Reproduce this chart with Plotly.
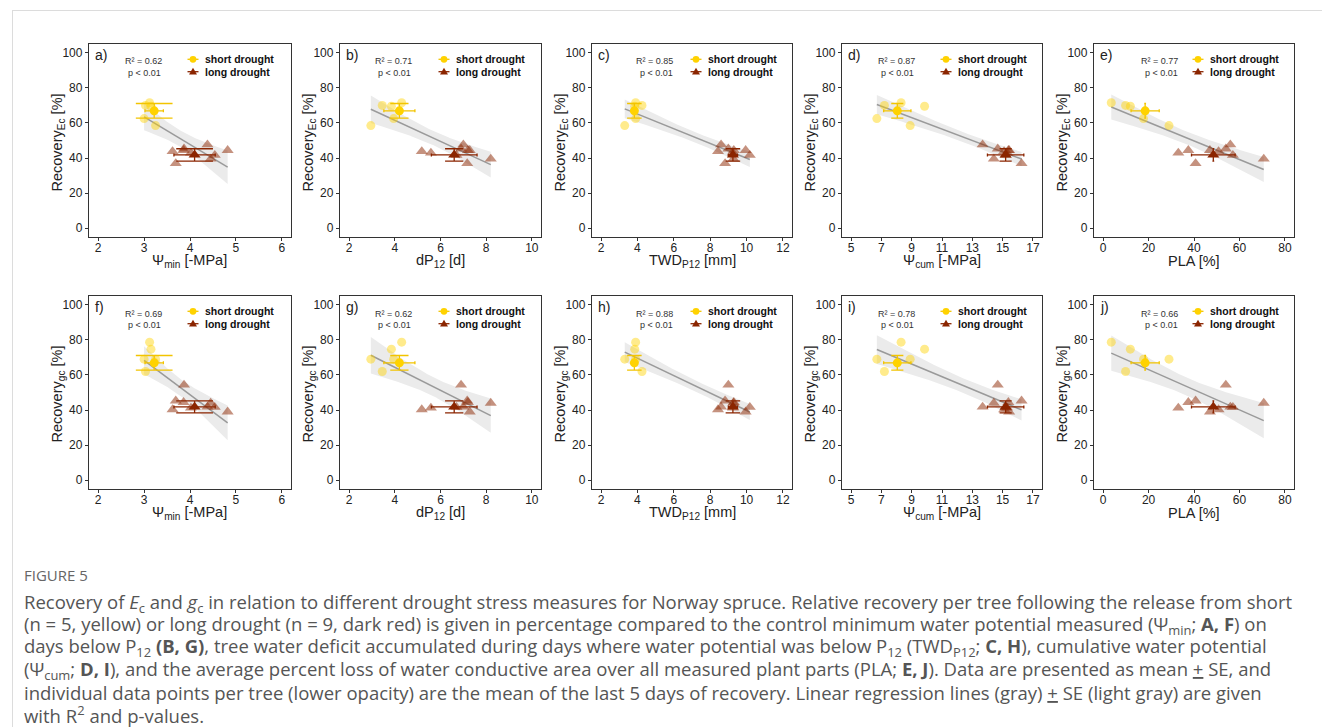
import numpy as np
import plotly.graph_objects as go

# ---------------- data ----------------
panel_letters = ["a)", "b)", "c)", "d)", "e)", "f)", "g)", "h)", "i)", "j)"]

# short drought trees (n = 5)
short_psimin = [3.25, 3.00, 3.15, 3.03, 3.12]
short_dp12 = [2.95, 3.95, 3.85, 3.45, 4.30]
short_twd = [3.30, 3.90, 3.85, 4.25, 3.90]
short_psicum = [8.90, 6.70, 9.85, 7.20, 8.30]
short_pla = [29.0, 17.8, 12.0, 9.9, 3.6]
short_ec = [58.5, 62.5, 69.5, 70.0, 71.5]
short_gc = [69.0, 69.0, 74.7, 62.0, 78.7]

# long drought trees (n = 9)
long_psimin = [4.02, 3.86, 3.69, 4.82, 3.62, 3.87, 4.38, 4.54, 4.45]
long_dp12 = [5.58, 7.20, 7.17, 7.28, 5.18, 6.90, 7.00, 6.70, 8.20]
long_twd = [9.25, 9.30, 8.82, 9.95, 8.43, 9.00, 8.60, 10.18, 9.28]
long_psicum = [15.30, 15.38, 16.25, 15.43, 15.10, 14.68, 13.68, 15.20, 14.42]
long_pla = [33.1, 37.5, 40.7, 47.0, 50.8, 54.0, 56.0, 57.1, 70.7]
long_ec = [42.9, 44.4, 36.9, 44.4, 43.8, 45.3, 47.6, 41.6, 39.5]
long_gc = [41.2, 44.4, 45.3, 39.0, 40.3, 54.3, 41.8, 41.6, 44.0]

# group means +- SE shown in the panels (x: per drought measure)
short_mean_x = [3.22, 4.20, 3.83, 8.05, 18.5]
short_se_x = [0.20, 0.68, 0.10, 0.90, 6.2]
long_mean_x = [4.10, 6.60, 9.25, 15.20, 48.5]
long_se_x = [0.45, 1.00, 0.25, 1.20, 9.6]
short_mean_ec, short_se_ec = 66.9, 4.2
short_mean_gc, short_se_gc = 66.9, 4.2
long_mean_ec, long_se_ec = 41.8, 3.5
long_mean_gc, long_se_gc = 41.8, 3.4

r2_ec = ["0.62", "0.71", "0.85", "0.87", "0.77"]
r2_gc = ["0.69", "0.62", "0.88", "0.78", "0.66"]
p_label = "p < 0.01"

x_titles = ["Ψ<sub>min</sub> [-MPa]", "dP<sub>12</sub> [d]", "TWD<sub>P12</sub> [mm]",
            "Ψ<sub>cum</sub> [-MPa]", "PLA [%]"]
y_titles = ["Recovery<sub>Ec</sub> [%]", "Recovery<sub>gc</sub> [%]"]
x_ranges = [[1.8, 6.2], [1.6, 10.4], [1.5, 12.5], [4.4, 17.6], [-4, 84]]
x_ticks = [[2, 3, 4, 5, 6], [2, 4, 6, 8, 10], [2, 4, 6, 8, 10, 12],
           [5, 7, 9, 11, 13, 15, 17], [0, 20, 40, 60, 80]]
y_ticks = [0, 20, 40, 60, 80, 100]

caption_title = "FIGURE 5"
caption_lines = [
    "Recovery of <i>E</i><sub>c</sub> and <i>g</i><sub>c</sub> in relation to different drought stress measures for Norway spruce. Relative recovery per tree following the release from short",
    "(n = 5, yellow) or long drought (n = 9, dark red) is given in percentage compared to the control minimum water potential measured (Ψ<sub>min</sub>; <b>A, F</b>) on",
    "days below P<sub>12</sub> <b>(B, G)</b>, tree water deficit accumulated during days where water potential was below P<sub>12</sub> (TWD<sub>P12</sub>; <b>C, H</b>), cumulative water potential",
    "(Ψ<sub>cum</sub>; <b>D, I</b>), and the average percent loss of water conductive area over all measured plant parts (PLA; <b>E, J</b>). Data are presented as mean <u>+</u> SE, and",
    "individual data points per tree (lower opacity) are the mean of the last 5 days of recovery. Linear regression lines (gray) <u>+</u> SE (light gray) are given",
    "with R<sup>2</sup> and p-values.",
]

# ---------------- layout geometry ----------------
W, H = 1322, 727
def fx(p):
    return p / W
def fy(p):
    return 1 - p / H

col_left = [89, 340, 592, 842, 1094]
col_right = [291, 541, 792, 1042, 1294]
row_top = [44, 296]
row_bottom = [237, 489]

SHORT = "#FFD200"
SHORT_BAR = "#F2C400"
LONG = "#8B2500"
FONT = "Liberation Sans, Arial, sans-serif"
TXT = "#222222"

short_x = [short_psimin, short_dp12, short_twd, short_psicum, short_pla]
long_x = [long_psimin, long_dp12, long_twd, long_psicum, long_pla]

fig = go.Figure()
layout = dict(width=W, height=H, margin=dict(l=0, r=0, t=0, b=0),
              paper_bgcolor="white", plot_bgcolor="white", showlegend=False,
              font=dict(family=FONT, color=TXT))
annotations = []
shapes = []

T_Q = 2.1788  # t(0.975, df = 12)

for r in range(2):
    ys_short = short_ec if r == 0 else short_gc
    ys_long = long_ec if r == 0 else long_gc
    m_s, se_s = (short_mean_ec, short_se_ec) if r == 0 else (short_mean_gc, short_se_gc)
    m_l, se_l = (long_mean_ec, long_se_ec) if r == 0 else (long_mean_gc, long_se_gc)
    r2 = r2_ec if r == 0 else r2_gc
    for c in range(5):
        i = r * 5 + c
        n = i + 1
        xa = "x" if n == 1 else f"x{n}"
        ya = "y" if n == 1 else f"y{n}"
        xk = "xaxis" if n == 1 else f"xaxis{n}"
        yk = "yaxis" if n == 1 else f"yaxis{n}"
        L, R = col_left[c], col_right[c]
        T, B = row_top[r], row_bottom[r]
        layout[xk] = dict(domain=[fx(L), fx(R)], anchor=ya, range=x_ranges[c],
                          tickvals=x_ticks[c], showgrid=False, zeroline=False,
                          showline=True, mirror=True, linecolor="#333333", linewidth=1.3,
                          ticks="outside", ticklen=3, tickwidth=1, tickcolor="#333333",
                          ticklabelstandoff=-4,
                          tickfont=dict(size=12, color=TXT, family=FONT))
        layout[yk] = dict(domain=[fy(B), fy(T)], anchor=xa, range=[-5, 105],
                          tickvals=y_ticks, showgrid=False, zeroline=False,
                          showline=True, mirror=True, linecolor="#333333", linewidth=1.3,
                          ticks="outside", ticklen=3, tickwidth=1, tickcolor="#333333",
                          tickfont=dict(size=12, color=TXT, family=FONT))
        # axis titles
        annotations.append(dict(text=x_titles[c], x=fx((L + R) / 2), y=fy(B + 24),
                                xref="paper", yref="paper", xanchor="center", yanchor="middle",
                                showarrow=False, font=dict(size=14.5, color=TXT, family=FONT)))
        annotations.append(dict(text=y_titles[r], x=fx(L - 32), y=fy((T + B) / 2 + 2),
                                xref="paper", yref="paper", xanchor="center", yanchor="middle",
                                textangle=-90, showarrow=False,
                                font=dict(size=14.5, color=TXT, family=FONT)))

        # regression over individual trees
        xall = np.array(short_x[c] + long_x[c], dtype=float)
        yall = np.array(ys_short + ys_long, dtype=float)
        b, a = np.polyfit(xall, yall, 1)
        nn = len(xall)
        resid = yall - (a + b * xall)
        s = np.sqrt(np.sum(resid ** 2) / (nn - 2))
        sxx = np.sum((xall - xall.mean()) ** 2)
        xg = np.linspace(xall.min(), xall.max(), 80)
        yh = a + b * xg
        se = s * np.sqrt(1 / nn + (xg - xall.mean()) ** 2 / sxx)
        up, lo = yh + T_Q * se, yh - T_Q * se
        fig.add_trace(go.Scatter(x=np.concatenate([xg, xg[::-1]]), y=np.concatenate([up, lo[::-1]]),
                                 fill="toself", fillcolor="#ebebeb", line=dict(width=0),
                                 mode="lines", hoverinfo="skip", xaxis=xa, yaxis=ya))
        fig.add_trace(go.Scatter(x=xg, y=yh, mode="lines", line=dict(color="#9a9a9a", width=1.5),
                                 xaxis=xa, yaxis=ya))

        # individual trees
        fig.add_trace(go.Scatter(x=short_x[c], y=ys_short, mode="markers",
                                 marker=dict(symbol="circle", size=9, color=SHORT, opacity=0.45),
                                 xaxis=xa, yaxis=ya))
        fig.add_trace(go.Scatter(x=long_x[c], y=ys_long, mode="markers",
                                 marker=dict(symbol="triangle-up", size=10.5, color=LONG, opacity=0.5),
                                 xaxis=xa, yaxis=ya))

        # group means +- SE
        ppu = (R - L) / (x_ranges[c][1] - x_ranges[c][0])
        capw = 0.4 * ppu
        fig.add_trace(go.Scatter(x=[short_mean_x[c]], y=[m_s], mode="markers",
                                 marker=dict(symbol="circle", size=9, color=SHORT),
                                 error_y=dict(type="data", array=[se_s], color=SHORT_BAR,
                                              thickness=1.3, width=capw),
                                 error_x=dict(type="data", array=[short_se_x[c]], color=SHORT_BAR,
                                              thickness=1.3, width=1.5),
                                 xaxis=xa, yaxis=ya))
        fig.add_trace(go.Scatter(x=[long_mean_x[c]], y=[m_l], mode="markers",
                                 marker=dict(symbol="triangle-up", size=10.5, color=LONG),
                                 error_y=dict(type="data", array=[se_l], color=LONG,
                                              thickness=1.3, width=capw),
                                 error_x=dict(type="data", array=[long_se_x[c]], color=LONG,
                                              thickness=1.3, width=1.5),
                                 xaxis=xa, yaxis=ya))

        # panel letter
        annotations.append(dict(text=panel_letters[i], x=fx(L + 4), y=fy(T + 11), xref="paper",
                                yref="paper", xanchor="left", yanchor="middle", showarrow=False,
                                font=dict(size=14, color=TXT, family=FONT)))
        # R2 / p text
        offs = [54, 53, 62.5, 54, 65.5][c]
        annotations.append(dict(text=f"R² = {r2[c]}", x=fx(L + offs), y=fy(T + 17.5), xref="paper",
                                yref="paper", xanchor="center", yanchor="middle", showarrow=False,
                                font=dict(size=9, color="#333333", family=FONT)))
        annotations.append(dict(text=p_label, x=fx(L + offs + 1.5), y=fy(T + 29), xref="paper",
                                yref="paper", xanchor="center", yanchor="middle", showarrow=False,
                                font=dict(size=9, color="#333333", family=FONT)))
        # legend (manual)
        gx = L + 104
        for k, (lab, col) in enumerate([("short drought", SHORT), ("long drought", LONG)]):
            gy = T + 15.3 + 12.4 * k
            shapes.append(dict(type="line", xref="paper", yref="paper", xsizemode="pixel",
                               ysizemode="pixel", xanchor=fx(gx), yanchor=fy(gy),
                               x0=-5.5, x1=5.5, y0=0, y1=0,
                               line=dict(color=SHORT_BAR if k == 0 else LONG, width=1.3)))
            if k == 0:
                shapes.append(dict(type="circle", xref="paper", yref="paper", xsizemode="pixel",
                                   ysizemode="pixel", xanchor=fx(gx), yanchor=fy(gy),
                                   x0=-3.4, x1=3.4, y0=-3.4, y1=3.4,
                                   fillcolor=SHORT, line=dict(width=0)))
            else:
                shapes.append(dict(type="path", xref="paper", yref="paper", xsizemode="pixel",
                                   ysizemode="pixel", xanchor=fx(gx), yanchor=fy(gy),
                                   path="M -4,-2.8 L 4,-2.8 L 0,4 Z",
                                   fillcolor=LONG, line=dict(width=0)))
            annotations.append(dict(text=f"<b>{lab}</b>", x=fx(gx + 10), y=fy(gy), xref="paper",
                                    yref="paper", xanchor="left", yanchor="middle", showarrow=False,
                                    font=dict(size=10.5, color="#111111", family=FONT)))

# card border
shapes.append(dict(type="line", xref="paper", yref="paper", x0=fx(12), x1=1, y0=fy(10.5), y1=fy(10.5),
                   line=dict(color="#dcdcdc", width=1)))
shapes.append(dict(type="line", xref="paper", yref="paper", x0=fx(12.5), x1=fx(12.5), y0=fy(10.5), y1=0,
                   line=dict(color="#dcdcdc", width=1)))

# caption
CAP_FONT = "Open Sans, Lato, sans-serif"
annotations.append(dict(text=caption_title, x=fx(22), y=fy(575), xref="paper", yref="paper",
                        xanchor="left", yanchor="middle", showarrow=False,
                        font=dict(size=15, color="#666666", family=CAP_FONT)))
for k, line in enumerate(caption_lines):
    annotations.append(dict(text=line, x=fx(22), y=fy(602.5 + 22.4 * k), xref="paper", yref="paper",
                            xanchor="left", yanchor="middle", showarrow=False, align="left",
                            font=dict(size=18.5, color="#555555", family=CAP_FONT)))

layout["annotations"] = annotations
layout["shapes"] = shapes
fig.update_layout(**layout)
fig.write_html("out.html")
